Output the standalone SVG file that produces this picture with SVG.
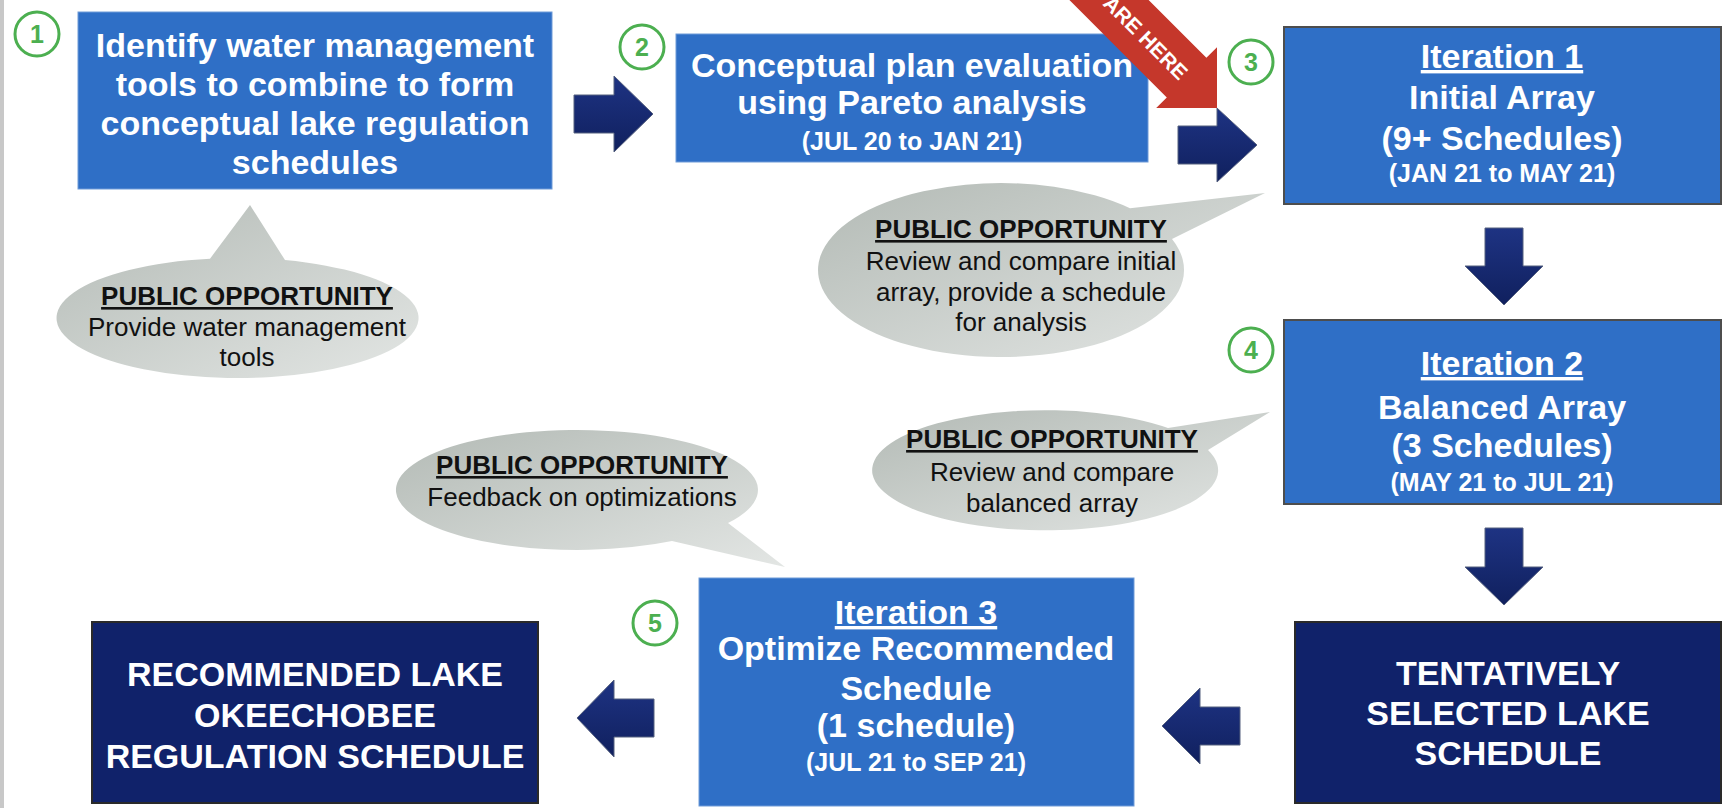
<svg xmlns="http://www.w3.org/2000/svg" width="1735" height="808" viewBox="0 0 1735 808">
<defs>
<linearGradient id="bg" x1="0" y1="0" x2="1" y2="1">
<stop offset="0" stop-color="#b3bab5"/>
<stop offset="1" stop-color="#e3e6e4"/>
</linearGradient>
<linearGradient id="ng" x1="0" y1="0" x2="0" y2="1">
<stop offset="0" stop-color="#1e3383"/>
<stop offset="1" stop-color="#10205e"/>
</linearGradient>
<style>
.blue{fill:#2F6FC6;stroke:#6f9bd8;stroke-width:1}
.blue.dk{stroke:#4d4d4d;stroke-width:2}
.navy{fill:#10226A;stroke:#2a2a2a;stroke-width:2}
.tw{font-family:"Liberation Sans",Arial,sans-serif;font-weight:bold;fill:#ffffff;text-anchor:middle}
.big{font-size:34px}
.date{font-size:25px}
.ul{text-decoration:underline}
.num circle{fill:#ffffff;stroke:#4CAF50;stroke-width:3}
.num text{font-family:"Liberation Sans",Arial,sans-serif;font-size:25px;font-weight:bold;fill:#4CAF50;text-anchor:middle}
.bub{fill:url(#bg)}
.bt{font-family:"Liberation Sans",Arial,sans-serif;font-size:26px;fill:#111111;text-anchor:middle}
.bh{font-weight:bold;text-decoration:underline}
.arrow{fill:url(#ng);stroke:#55607f;stroke-width:1}
</style>
</defs>
<rect x="0" y="0" width="1735" height="808" fill="#ffffff"/>
<rect x="0" y="0" width="4" height="808" fill="#c8c8c8"/>

<g id="step1">
<rect class="blue" x="78" y="12" width="474" height="177"/>
<text class="tw big" x="315" y="57">Identify water management</text>
<text class="tw big" x="315" y="96">tools to combine to form</text>
<text class="tw big" x="315" y="135">conceptual lake regulation</text>
<text class="tw big" x="315" y="174">schedules</text>
</g>
<g id="num1" class="num"><circle cx="37" cy="34" r="22"/><text x="37" y="43">1</text></g>

<g id="step2">
<rect class="blue" x="676" y="34" width="472" height="128"/>
<text class="tw big" x="912" y="77">Conceptual plan evaluation</text>
<text class="tw big" x="912" y="114">using Pareto analysis</text>
<text class="tw date" x="912" y="150">(JUL 20 to JAN 21)</text>
</g>
<g id="num2" class="num"><circle cx="642" cy="47" r="22"/><text x="642" y="56">2</text></g>

<g id="step3">
<rect class="blue dk" x="1284" y="27" width="437" height="177"/>
<text class="tw big ul" x="1502" y="68">Iteration 1</text>
<text class="tw big" x="1502" y="109">Initial Array</text>
<text class="tw big" x="1502" y="150">(9+ Schedules)</text>
<text class="tw date" x="1502" y="182">(JAN 21 to MAY 21)</text>
</g>
<g id="num3" class="num"><circle cx="1251" cy="62" r="22"/><text x="1251" y="71">3</text></g>

<g id="step4">
<rect class="blue dk" x="1284" y="320" width="437" height="184"/>
<text class="tw big ul" x="1502" y="375">Iteration 2</text>
<text class="tw big" x="1502" y="419">Balanced Array</text>
<text class="tw big" x="1502" y="457">(3 Schedules)</text>
<text class="tw date" x="1502" y="491">(MAY 21 to JUL 21)</text>
</g>
<g id="num4" class="num"><circle cx="1251" cy="350" r="22"/><text x="1251" y="359">4</text></g>

<g id="tentative">
<rect class="navy" x="1295" y="622" width="426" height="181"/>
<text class="tw big" x="1508" y="685">TENTATIVELY</text>
<text class="tw big" x="1508" y="725">SELECTED LAKE</text>
<text class="tw big" x="1508" y="765">SCHEDULE</text>
</g>

<g id="step5">
<rect class="blue" x="699" y="578" width="435" height="228"/>
<text class="tw big ul" x="916" y="624">Iteration 3</text>
<text class="tw big" x="916" y="660">Optimize Recommended</text>
<text class="tw big" x="916" y="700">Schedule</text>
<text class="tw big" x="916" y="737">(1 schedule)</text>
<text class="tw date" x="916" y="771">(JUL 21 to SEP 21)</text>
</g>
<g id="num5" class="num"><circle cx="655" cy="623" r="22"/><text x="655" y="632">5</text></g>

<g id="final">
<rect class="navy" x="92" y="622" width="446" height="181"/>
<text class="tw big" x="315" y="686">RECOMMENDED LAKE</text>
<text class="tw big" x="315" y="727">OKEECHOBEE</text>
<text class="tw big" x="315" y="768">REGULATION SCHEDULE</text>
</g>

<g id="bubble1">
<path class="bub" d="M210,258.7 L250,205 L285,260.1 A181 60 0 1 1 210,258.7 Z"/>
<text class="bt bh" x="247" y="305">PUBLIC OPPORTUNITY</text>
<text class="bt" x="247" y="336">Provide water management</text>
<text class="bt" x="247" y="366">tools</text>
</g>

<g id="bubble2">
<path class="bub" d="M1130,208.3 L1265,193 L1172,239 A183 87 0 1 1 1130,208.3 Z"/>
<text class="bt bh" x="1021" y="238">PUBLIC OPPORTUNITY</text>
<text class="bt" x="1021" y="270">Review and compare initial</text>
<text class="bt" x="1021" y="301">array, provide a schedule</text>
<text class="bt" x="1021" y="331">for analysis</text>
</g>

<g id="bubble3">
<path class="bub" d="M1168,428 L1270,412 L1208,450 A173 60 0 1 1 1168,428 Z"/>
<text class="bt bh" x="1052" y="448">PUBLIC OPPORTUNITY</text>
<text class="bt" x="1052" y="481">Review and compare</text>
<text class="bt" x="1052" y="512">balanced array</text>
</g>

<g id="bubble4">
<path class="bub" d="M728,523 L785,567 L672,541 A181 60 0 1 1 728,523 Z"/>
<text class="bt bh" x="582" y="474">PUBLIC OPPORTUNITY</text>
<text class="bt" x="582" y="506">Feedback on optimizations</text>
</g>

<g id="connectors">
<path class="arrow" d="M574,95 H614 V76 L653,114 L614,152 V133 H574 Z"/>
<path class="arrow" d="M1178,126 H1217 V108 L1257,145 L1217,182 V164 H1178 Z"/>
<path class="arrow" d="M1485,228 V266 H1465 L1504,305 L1543,266 H1523 V228 Z"/>
<path class="arrow" d="M1485,528 V567 H1465 L1504,605 L1543,567 H1523 V528 Z"/>
<path class="arrow" d="M1240,707 H1200 V688 L1162,726 L1200,764 V745 H1240 Z"/>
<path class="arrow" d="M654,699 H614 V680 L577,718 L614,757 V737 H654 Z"/>
</g>

<g id="you-are-here" transform="translate(1217,108) rotate(45)">
<path d="M0,0 L-43,-43 L-43,-28 L-270,-28 L-270,28 L-43,28 L-43,43 Z" fill="#C5372B"/>
<text x="-46" y="8" font-family="Liberation Sans, Arial, sans-serif" font-size="21" font-weight="bold" fill="#ffffff" text-anchor="end">ARE HERE</text>
</g>
</svg>
